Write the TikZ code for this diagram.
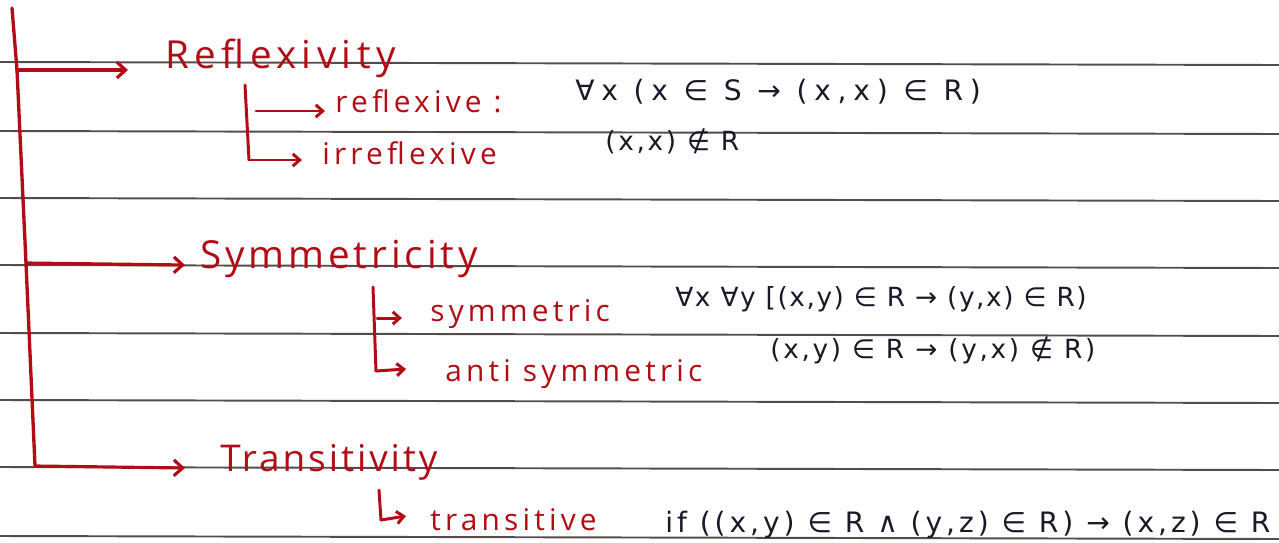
\documentclass[tikz,border=0pt]{standalone}
\usepackage{fontspec}
\usepackage{xcolor}
\usepackage{tikz}
\usetikzlibrary{positioning,calc,arrows.meta}
\newfontfamily\handfont[LetterSpace=14]{Open Sans}
\newfontfamily\formfont[LetterSpace=10]{DejaVu Sans}
\definecolor{ink}{RGB}{178,12,22}
\definecolor{pen}{RGB}{28,24,40}
\definecolor{ruled}{RGB}{85,75,75}
\tikzstyle{head}=[anchor=base west, inner sep=0pt, text=ink, font=\handfont\fontsize{22}{24}\selectfont]
\tikzstyle{sub}=[anchor=base west, inner sep=0pt, text=ink, font=\handfont\fontsize{17}{19}\selectfont]
\tikzstyle{form}=[anchor=base west, inner sep=0pt, text=pen, font=\formfont\fontsize{15}{17}\selectfont]
\tikzstyle{spine}=[ink, line width=1.9pt, line cap=round, line join=round]
\tikzstyle{branch}=[ink, line width=1.8pt, line cap=round, line join=round, -{Straight Barb[length=5pt,width=9pt]}]
\tikzstyle{twig}=[ink, line width=1.7pt, line cap=round, line join=round, -{Straight Barb[length=4pt,width=7pt]}]

\begin{document}
\begin{tikzpicture}[x=0.02cm,y=-0.02cm]
	\useasboundingbox (0,0) rectangle (1279,542);
	% ruled paper
	\foreach \y in {62,131,198,265,333,400,467,536}
		\draw[ruled, line width=1.1pt] (0,\y) -- (1279,\y+3);

	% main spine and where the branches leave it
	\coordinate (top) at (12,8);
	\coordinate (b1) at (17,70);
	\coordinate (b2) at (26,263);
	\coordinate (b3) at (35,466);
	\coordinate (h1) at (128,70);
	\coordinate (h2) at (185,265);
	\coordinate (h3) at (185,468);

	% headings
	\node[head] (refl) at (165,68) {Reflexivity};
	\node[head, font=\handfont\fontsize{22}{24}\selectfont\addfontfeatures{LetterSpace=10}] (symm) at (200,268) {Symmetricity};
	\node[head, font=\handfont\fontsize{21}{24}\selectfont\addfontfeatures{LetterSpace=8}] (tran) at (220,471) {Transitivity};

	% kinds
	\node[sub] (reflexive) at (335,112) {reflexive :};
	\node[sub] (irreflexive) at (322,164) {irreflexive};
	\node[sub] (symmetric) at (430,321) {symmetric};
	\node[sub] (antisym) at (445,381) {anti symmetric};
	\node[sub] (transitive) at (430,530) {transitive};

	% definitions
	\node[form, font=\formfont\fontsize{16}{18}\selectfont\addfontfeatures{LetterSpace=24}] (defrefl) at (575,100) {∀x (x ∈ S → (x,x) ∈ R)};
	\node[form] (defirr) at (605,150) {(x,x) ∉ R};
	\node[form, font=\formfont\fontsize{15}{17}\selectfont\addfontfeatures{LetterSpace=6}] (defsym) at (675,306) {∀x ∀y [(x,y) ∈ R → (y,x) ∈ R)};
	\node[form] (defanti) at (770,358) {(x,y) ∈ R → (y,x) ∉ R)};
	\node[form, font=\formfont\fontsize{16}{18}\selectfont\addfontfeatures{LetterSpace=14}] (deftran) at (665,532) {if ((x,y) ∈ R ∧ (y,z) ∈ R) → (x,z) ∈ R};

	\draw[spine] (top) -- (b1) -- (b2) -- (b3);
	\draw[branch] (b1) -- (h1);
	\draw[branch] (b2) -- (h2);
	\draw[branch] (b3) -- (h3);

	% reflexivity split
	\coordinate (r0) at (245,85);
	\coordinate (r1) at (249,160);
	\coordinate (ra) at (256,111);
	\coordinate (rb) at (325,111);
	\coordinate (rc) at (302,160);
	\draw[spine, line width=1.7pt] (r0) -- (r1);
	\draw[twig] (ra) -- (rb);
	\draw[twig] (r1) -- (rc);

	% symmetricity split
	\coordinate (s0) at (373,287);
	\coordinate (s1) at (376,371);
	\coordinate (sa) at (377,318);
	\coordinate (sb) at (402,318);
	\coordinate (sc) at (406,369);
	\draw[spine, line width=1.7pt] (s0) -- (s1);
	\draw[twig] (sa) -- (sb);
	\draw[twig] (s1) -- (sc);

	% transitivity split
	\coordinate (t0) at (379,490);
	\coordinate (t1) at (381,520);
	\coordinate (tc) at (406,516);
	\draw[spine, line width=1.7pt] (t0) -- (t1);
	\draw[twig] (t1) -- (tc);
\end{tikzpicture}
\end{document}
